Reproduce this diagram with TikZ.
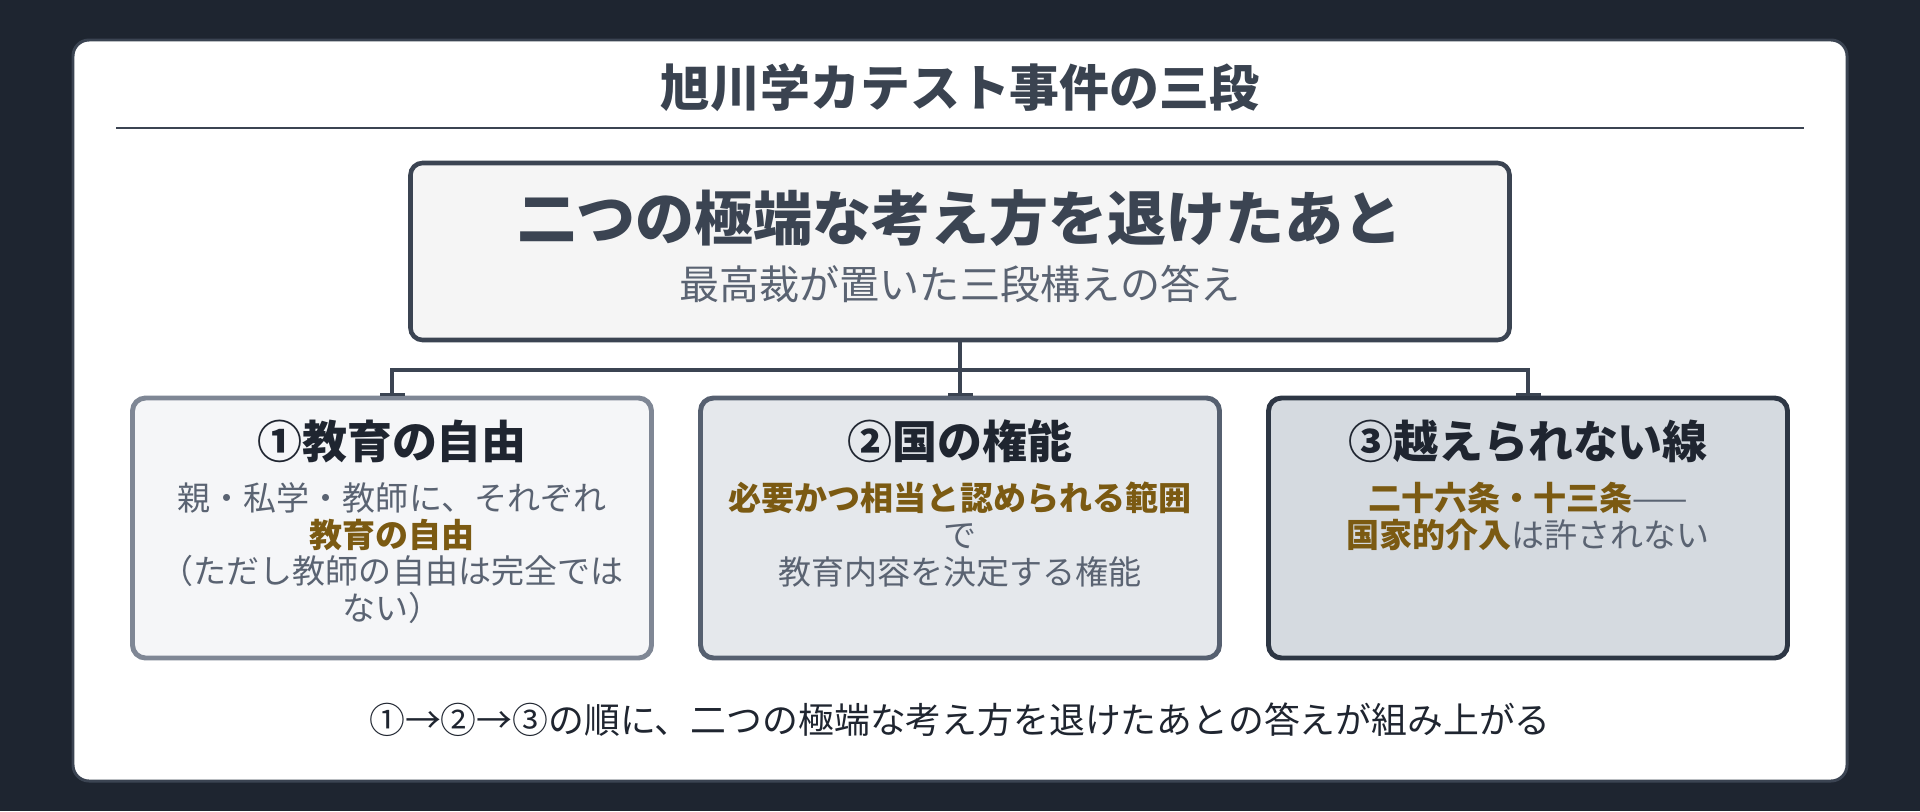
\documentclass[tikz,border=0pt]{standalone}
\usepackage{fontspec}
\setmainfont{Noto Sans CJK JP}
\usetikzlibrary{shapes,arrows.meta,calc}
\definecolor{bgdark}{HTML}{1E2530}
\definecolor{edge}{HTML}{3B4452}
\definecolor{ink}{HTML}{1F2530}
\definecolor{slate}{HTML}{3A4350}
\definecolor{muted}{HTML}{5A6372}
\definecolor{hilite}{HTML}{7B5A12}
\definecolor{fillA}{HTML}{F5F6F8}
\definecolor{fillB}{HTML}{E5E8EC}
\definecolor{fillC}{HTML}{D5DAE0}
\definecolor{rimA}{HTML}{7F8795}
\definecolor{rimB}{HTML}{566070}
\definecolor{rimC}{HTML}{2D3644}
\tikzstyle{line} = [draw, line width=1.15pt, edge, -{Rectangle[width=0.25cm,length=0.03cm]}]
\tikzstyle{block} = [draw, rectangle, rounded corners=0.13cm, line width=1.4pt, minimum width=5.19cm, minimum height=2.6cm]
\tikzstyle{cloud} = [draw=edge, fill=gray!8, rectangle, rounded corners=0.12cm, line width=1.3pt, minimum width=10.99cm, minimum height=1.77cm]
\tikzstyle{boxtitle} = [text=ink, font=\fontsize{12.8}{15}\selectfont\bfseries]
\tikzstyle{boxbody} = [anchor=north, inner sep=0pt, align=center, text=muted, font=\fontsize{9.4}{10.5}\selectfont]
\newcommand{\hl}[1]{{\bfseries\color{hilite}#1}}

\begin{document}
\begin{tikzpicture}[node distance=2.765cm, auto]
        \fill[bgdark] (0,0) rectangle (19.2,-8.11);
        \draw[edge, fill=white, line width=0.85pt, rounded corners=0.16cm] (0.73,-0.40) rectangle (18.47,-7.81);
        \node[text=slate, font=\fontsize{14.2}{17}\selectfont\bfseries] (heading) at (9.6,-0.88) {旭川学カテスト事件の三段};
        \coordinate (ruleL) at (1.16,-1.28);
        \coordinate (ruleR) at (18.04,-1.28);
        \draw[edge, line width=0.7pt] (ruleL) -- (ruleR);
        % top box
        \node[cloud] (origin) at (9.6,-2.515) {};
        \node[text=edge, font=\fontsize{16.8}{20}\selectfont\bfseries] (origintitle) at ([yshift=0.335cm]origin.center) {二つの極端な考え方を退けたあと};
        \node[text=muted, font=\fontsize{11.4}{13}\selectfont] (originsub) at ([yshift=-0.325cm]origin.center) {最高裁が置いた三段構えの答え};
        % three boxes
        \node[block, draw=rimB, fill=fillB, below of=origin] (power) {};
        \node[block, draw=rimA, fill=fillA, left of=power, node distance=5.68cm] (freedom) {};
        \node[block, draw=rimC, fill=fillC, right of=power, node distance=5.68cm] (limit) {};
        \node[boxtitle] (freedomtitle) at ([yshift=-0.46cm]freedom.north) {①教育の自由};
        \node[boxtitle] (powertitle) at ([yshift=-0.46cm]power.north) {②国の権能};
        \node[boxtitle] (limittitle) at ([yshift=-0.46cm]limit.north) {③越えられない線};
        \node[boxbody] (freedombody) at ([yshift=-0.86cm]freedom.north) {親・私学・教師に、それぞれ\\\hl{教育の自由}\\（ただし教師の自由は完全では\\ない）};
        \node[boxbody] (powerbody) at ([yshift=-0.86cm]power.north) {\hl{必要かつ相当と認められる範囲}\\で\\教育内容を決定する権能};
        \node[boxbody] (limitbody) at ([yshift=-0.86cm]limit.north) {\hl{二十六条・十三条}——\\\hl{国家的介入}は許されない};
        % connectors
        \coordinate (bus) at ($(origin.south)+(0,-0.28)$);
        \draw[edge, line width=1.15pt] (origin.south) -- (bus);
        \path[line] (bus) -- (power.north);
        \path[line] (bus) -| (freedom.north);
        \path[line] (bus) -| (limit.north);
        \node[text=ink, font=\fontsize{10.2}{12}\selectfont] (footer) at (9.6,-7.20) {①→②→③の順に、二つの極端な考え方を退けたあとの答えが組み上がる};
    \end{tikzpicture}
\end{document}
